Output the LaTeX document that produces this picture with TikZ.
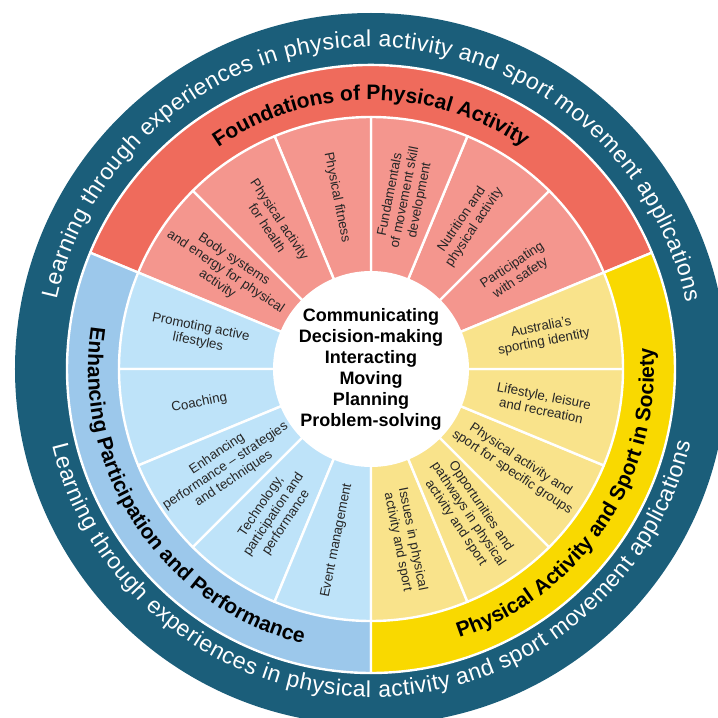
\documentclass[tikz,border=0pt]{standalone}
\usepackage{fontspec}
\setmainfont{Liberation Sans}
\usetikzlibrary{decorations.text}

\definecolor{ringteal}{HTML}{1B5E7A}
\definecolor{foundred}{HTML}{EF6B5C}
\definecolor{foundlight}{HTML}{F4968E}
\definecolor{enhblue}{HTML}{9CC8EB}
\definecolor{enhlight}{HTML}{BEE3F9}
\definecolor{socyellow}{HTML}{F9D900}
\definecolor{soclight}{HTML}{F9E38B}

\newcommand{\ringfont}{\fontsize{23}{23}\selectfont}
\newcommand{\catfont}{\bfseries\fontsize{21}{21}\selectfont}

\begin{document}
\begin{tikzpicture}[
  line join=round,
  sector/.style={draw=white, line width=2.4pt},
  segtext/.style={align=center, inner sep=1pt, text=black!85, font=\fontsize{13.3}{15}\selectfont},
  coretext/.style={align=center, inner sep=0pt, font=\bfseries\fontsize{18}{21}\selectfont},
  ringlabel/.style={decorate, decoration={text along path, text align=fit to path, text color=white, text={|\ringfont|#1}}},
  catlabel/.style={decorate, decoration={text along path, text align=center, text color=black, text={|\catfont|#1}}}
]

\def\Rout{356pt}
\def\Rband{304pt}
\def\Rseg{252pt}
\def\Rcore{98pt}
\def\Rtext{175pt}

\useasboundingbox (-371pt,-349pt) rectangle (347pt,369pt);

% Outer ring.
\fill[ringteal] (0,0) circle[radius=\Rout];

% Strand bands.
\filldraw[sector, fill=foundred] (0,0) -- (22.5:\Rband)
  arc[start angle=22.5, end angle=157.5, radius=\Rband] -- cycle;
\filldraw[sector, fill=enhblue] (0,0) -- (157.5:\Rband)
  arc[start angle=157.5, end angle=270, radius=\Rband] -- cycle;
\filldraw[sector, fill=socyellow] (0,0) -- (270:\Rband)
  arc[start angle=270, end angle=382.5, radius=\Rband] -- cycle;

% Focus area segments.
\foreach \a in {22.5,45,...,135}{
  \filldraw[sector, fill=foundlight] (0,0) -- (\a:\Rseg)
    arc[start angle=\a, delta angle=22.5, radius=\Rseg] -- cycle;
}
\foreach \a in {157.5,180,...,247.5}{
  \filldraw[sector, fill=enhlight] (0,0) -- (\a:\Rseg)
    arc[start angle=\a, delta angle=22.5, radius=\Rseg] -- cycle;
}
\foreach \a in {270,292.5,...,360}{
  \filldraw[sector, fill=soclight] (0,0) -- (\a:\Rseg)
    arc[start angle=\a, delta angle=22.5, radius=\Rseg] -- cycle;
}

% Core.
\fill[white] (0,0) circle[radius=\Rcore];
\node[coretext] (core) at (0,0)
  {Communicating\\Decision-making\\Interacting\\Moving\\Planning\\Problem-solving};

% Segment labels.
\foreach \a/\rot/\txt [count=\i] in {
  146.25/-33.75/{Body systems\\and energy for physical\\activity},
  123.75/-56.25/{Physical activity\\for health},
  101.25/-78.75/{Physical fitness},
  78.75/78.75/{Fundamentals\\of movement skill\\development},
  56.25/56.25/{Nutrition and\\physical activity},
  33.75/33.75/{Participating\\with safety},
  11.25/11.25/{Australia's\\sporting identity},
  -11.25/-11.25/{Lifestyle, leisure\\and recreation},
  -33.75/-33.75/{Physical activity and\\sport for specific groups},
  -56.25/-56.25/{Opportunities and\\pathways in physical\\activity and sport},
  -78.75/-78.75/{Issues in physical\\activity and sport},
  258.75/78.75/{Event management},
  236.25/56.25/{Technology,\\participation and\\performance},
  213.75/33.75/{Enhancing\\performance – strategies\\and techniques},
  191.25/11.25/{Coaching},
  168.75/-11.25/{Promoting active\\lifestyles}}{
  \node[segtext, rotate=\rot] (seg\i) at (\a:\Rtext) {\txt};
}

% Strand titles.
\path[catlabel={Foundations of Physical Activity}]
  (157.5:269pt) arc[start angle=157.5, end angle=22.5, radius=269pt];
\path[catlabel={Enhancing Participation and Performance}]
  (157.5:283pt) arc[start angle=157.5, end angle=270, radius=283pt];
\path[catlabel={Physical Activity and Sport in Society}]
  (270:283pt) arc[start angle=270, end angle=382.5, radius=283pt];

% Ring text.
\path[ringlabel={Learning through experiences in physical activity and sport movement applications}]
  (167.5:322pt) arc[start angle=167.5, end angle=12, radius=322pt];
\path[ringlabel={Learning through experiences in physical activity and sport movement applications}]
  (193.5:328pt) arc[start angle=193.5, end angle=347, radius=328pt];

\end{tikzpicture}
\end{document}
